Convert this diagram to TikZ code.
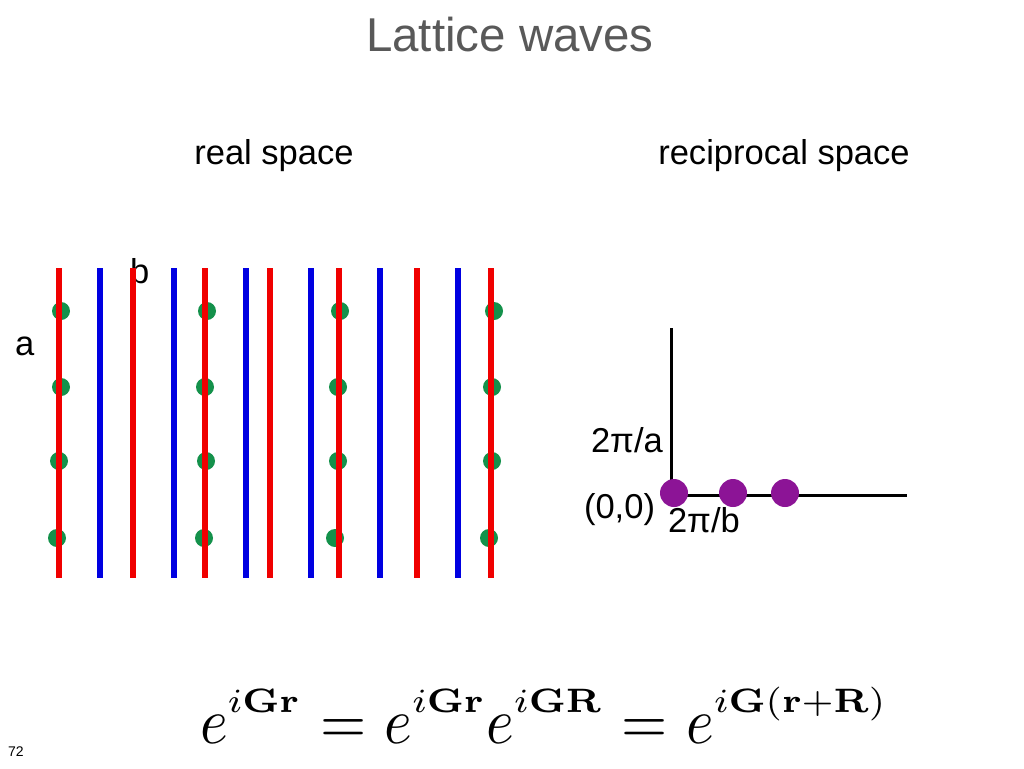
\documentclass[tikz,border=0pt]{standalone}
\usepackage[no-math]{fontspec}
\setmainfont{Liberation Sans}
\usepackage{amsmath}
\usepackage{graphicx}
\usetikzlibrary{positioning}

\newcommand\phasesup[1]{\raisebox{1.0pt}{\scalebox{0.88}[0.74]{$\scriptstyle #1$}}}
\newcommand\eqgap{\mskip0.5mu=\mskip0.5mu}

\begin{document}
\begin{tikzpicture}[x=0.75pt, y=-0.75pt,
        every node/.style={inner sep=0pt, outer sep=0pt},
        label text/.style={font=\fontsize{25.9}{31}\selectfont, anchor=base west},
        red bar/.style={draw=latticered, line width=4.7pt},
        blue bar/.style={draw=latticeblue, line width=4.7pt},
        atom/.style={circle, fill=atomgreen, minimum size=13.5pt},
        kpoint/.style={circle, fill=kpurple, minimum size=21pt},
        axis/.style={draw=black, line width=2.25pt},]

        \definecolor{latticered}{RGB}{240, 0, 0}
        \definecolor{latticeblue}{RGB}{0, 0, 225}
        \definecolor{atomgreen}{RGB}{20, 145, 75}
        \definecolor{kpurple}{RGB}{140, 20, 150}
        \definecolor{titlegray}{RGB}{89, 89, 89}

        \useasboundingbox (0,0) rectangle (1024,768);

        % headings
        \node[anchor=base, text=titlegray, font=\fontsize{35.6}{42}\selectfont] (title) at (510,51) {Lattice waves};
        \node[anchor=base, font=\fontsize{25.9}{31}\selectfont] (real) at (274,164) {real space};
        \node[anchor=base, font=\fontsize{25.9}{31}\selectfont] (recip) at (784,164) {reciprocal space};

        % real space
        \node[label text] (lb) at (130,283) {b};
        \node[label text] (la) at (15,355) {a};

        \node[atom] (a11) at (61,311) {};
        \node[atom] (a12) at (61,387) {};
        \node[atom] (a13) at (59,461) {};
        \node[atom] (a14) at (57,538) {};
        \node[atom] (a21) at (207,311) {};
        \node[atom] (a22) at (205,387) {};
        \node[atom] (a23) at (206,461) {};
        \node[atom] (a24) at (204,538) {};
        \node[atom] (a31) at (340,311) {};
        \node[atom] (a32) at (338,387) {};
        \node[atom] (a33) at (338,461) {};
        \node[atom] (a34) at (335,538) {};
        \node[atom] (a41) at (494,311) {};
        \node[atom] (a42) at (492,387) {};
        \node[atom] (a43) at (492,461) {};
        \node[atom] (a44) at (489,538) {};

        \draw[red bar] (59,268) -- (59,578);
        \draw[blue bar] (100,268) -- (100,578);
        \draw[red bar] (133,268) -- (133,578);
        \draw[blue bar] (174,268) -- (174,578);
        \draw[red bar] (205,268) -- (205,578);
        \draw[blue bar] (246,268) -- (246,578);
        \draw[red bar] (270,268) -- (270,578);
        \draw[blue bar] (311,268) -- (311,578);
        \draw[red bar] (339,268) -- (339,578);
        \draw[blue bar] (380,268) -- (380,578);
        \draw[red bar] (417,268) -- (417,578);
        \draw[blue bar] (458,268) -- (458,578);
        \draw[red bar] (491,268) -- (491,578);

        % reciprocal space
        \coordinate (origin) at (671,495);
        \coordinate (ktop) at (671,328);
        \coordinate (kright) at (907,495);
        \draw[axis] (ktop) -- (origin) -- (kright);

        \node[kpoint] (k0) at (674,493) {};
        \node[kpoint] (k1) at (733,493) {};
        \node[kpoint] (k2) at (785,493) {};

        \node[label text] (ka) at (591,452) {2π/a};
        \node[label text] (k00) at (584,518) {(0,0)};
        \node[label text] (kb) at (668,532) {2π/b};

        % formula and page number
        \node[anchor=base west] (formula) at (200,743) {\resizebox{516pt}{!}{\scalebox{1}[1.1]{$e^{\phasesup{i\mathbf{Gr}}}\eqgap e^{\phasesup{i\mathbf{Gr}}}e^{\phasesup{i\mathbf{GR}}}\eqgap e^{\phasesup{i\mathbf{G(r+R)}}}$}}};
        \node[anchor=base west, font=\fontsize{10.5}{12}\selectfont] (page) at (8,756) {72};

    \end{tikzpicture}
\end{document}
